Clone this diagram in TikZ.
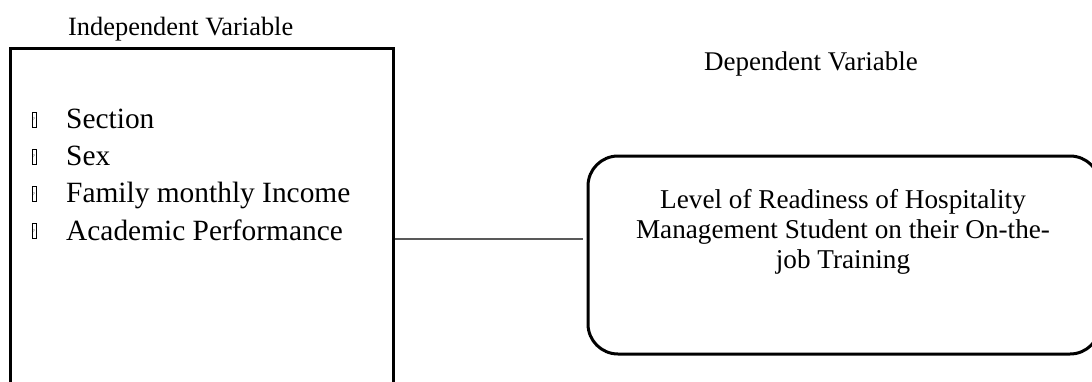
\documentclass[tikz,border=0pt]{standalone}
\usepackage{fontspec}
\setmainfont{Liberation Serif}
\tikzset{
  frame/.style={draw=black, line width=3pt, inner sep=0pt},
  conn/.style={draw=black!65, line width=1.6pt},
  title/.style={inner sep=0pt, anchor=base west, font=\fontsize{26.4}{30}\selectfont},
  item/.style={inner sep=0pt, anchor=base west, font=\fontsize{29.4}{35}\selectfont},
  tofu/.style={draw=black, line width=0.5pt, inner sep=0pt, minimum width=4pt, minimum height=15pt, anchor=south, font=\fontsize{4}{4}\selectfont},
  dvtext/.style={inner sep=0pt, anchor=base, align=center, font=\fontsize{27.2}{30}\selectfont}
}
\begin{document}
\begin{tikzpicture}[x=1pt,y=-1pt]
\useasboundingbox (0,0) rectangle (1092,381);
\clip (0,0) rectangle (1092,381);
% titles
\node[title] (ivtitle) at (68,35) {Independent Variable};
\node[title, font=\fontsize{27}{30}\selectfont] (dvtitle) at (704,70) {Dependent Variable};
% left box (open at the bottom of the picture)
\node[frame, minimum width=383pt, minimum height=372pt] (lbox) at (201.5,234) {};
% list
\foreach \t/\y [count=\i] in {Section/128.3, Sex/165.5, Family monthly Income/202.7, Academic Performance/240}{
  \node[tofu] (b\i) at (34,\y-1.2) {?};
  \node[item] (it\i) at (66,\y) {\t};
}
% right rounded box
\node[frame, rounded corners=30pt, minimum width=512pt, minimum height=198pt] (dvbox) at (844,255) {};
\node[dvtext] (dvlabel) at (843,268) {Level of Readiness of Hospitality\\Management Student on their On-the-\\job Training};
% connector
\coordinate (cend) at (583,239);
\draw[conn] (lbox.east |- cend) -- (cend);
\end{tikzpicture}
\end{document}
